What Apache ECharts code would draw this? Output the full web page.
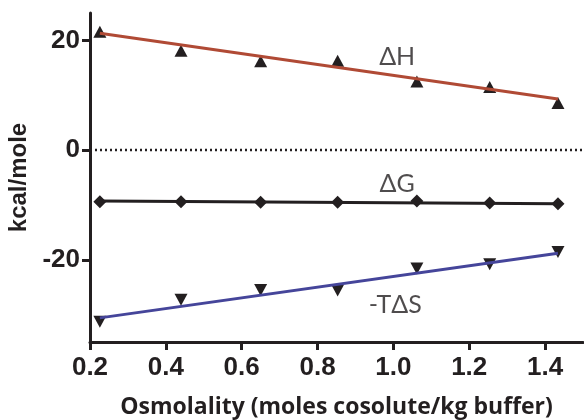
<!DOCTYPE html>
<html lang="en">
<head>
    <meta charset="UTF-8">
    <title>kcal/mole vs osmolality</title>
    <script src="https://cdn.jsdelivr.net/npm/echarts@6/dist/echarts.min.js"></script>
    <style>html,body{margin:0;padding:0;background:#fff;}</style>
</head>
<body>
<div id="box" style="width: 584px;height: 420px;"></div>
<script>
    // data
    var osmolality = [0.226, 0.44, 0.65, 0.853, 1.062, 1.254, 1.434];
    var dH = [21.6, 18.1, 16.2, 16.3, 12.5, 11.5, 8.6];
    var dG = [-9.4, -9.4, -9.5, -9.5, -9.3, -9.65, -9.8];
    var mTdS = [-31.3, -27.3, -25.5, -25.6, -21.6, -20.8, -18.6];
    // fitted lines: value at first and last x
    var fitX = [0.226, 1.434];
    var fitH = [21.3, 9.3];
    var fitG = [-9.3, -9.8];
    var fitS = [-30.6, -18.8];
    var xTicks = [0.2, 0.4, 0.6, 0.8, 1.0, 1.2, 1.4];
    var yTicks = [-20, 0, 20];
    var labels = [['ΔH', 1.01, 17], ['ΔG', 1.01, -6.1], ['-TΔS', 1.005, -28.3]];

    function pairs(xs, ys) {
        return xs.map(function (x, i) { return [x, ys[i]]; });
    }

    var myChart = echarts.init(document.getElementById('box'));
    var axisFont = {fontFamily: 'Liberation Sans', fontWeight: 'bold', fontSize: 26, color: '#231f20'};
    var option = {
        animation: false,
        grid: {left: 90, right: 1, top: 13, bottom: 78, outerBoundsMode: 'none'},
        xAxis: {
            type: 'value', min: 0.2, max: 1.5,
            name: 'Osmolality (moles cosolute/kg buffer)',
            nameLocation: 'middle', nameGap: 54,
            nameTextStyle: {fontFamily: 'Open Sans', fontWeight: 'bold', fontSize: 23, color: '#231f20'},
            axisLine: {onZero: false, lineStyle: {color: '#231f20', width: 3}},
            axisTick: {customValues: xTicks, length: 8, lineStyle: {width: 3, color: '#231f20'}},
            axisLabel: Object.assign({customValues: xTicks, margin: 13, formatter: function (v) { return v.toFixed(1); }}, axisFont),
            splitLine: {show: false}
        },
        yAxis: {
            type: 'value', min: -35, max: 25,
            name: 'kcal/mole',
            nameLocation: 'middle', nameGap: 57,
            nameTextStyle: {fontFamily: 'Liberation Sans', fontWeight: 'bold', fontSize: 24, color: '#231f20'},
            axisLine: {show: true, onZero: false, lineStyle: {color: '#231f20', width: 3}},
            axisTick: {show: true, customValues: yTicks, length: 8, lineStyle: {width: 3, color: '#231f20'}},
            axisLabel: Object.assign({customValues: yTicks, margin: 10}, axisFont),
            splitLine: {show: false}
        },
        series: [
            {
                type: 'line', data: [[0.2, 0], [1.5, 0]], showSymbol: false, silent: true,
                lineStyle: {color: '#231f20', width: 2.5, type: [2, 3]}
            },
            {type: 'line', data: pairs(fitX, fitH), showSymbol: false, lineStyle: {color: '#b04a35', width: 3}},
            {type: 'line', data: pairs(fitX, fitG), showSymbol: false, lineStyle: {color: '#231f20', width: 3}},
            {type: 'line', data: pairs(fitX, fitS), showSymbol: false, lineStyle: {color: '#45459a', width: 3}},
            {type: 'scatter', data: pairs(osmolality, dH), symbol: 'triangle', symbolSize: [13, 12], itemStyle: {color: '#231f20', opacity: 1}},
            {type: 'scatter', data: pairs(osmolality, dG), symbol: 'diamond', symbolSize: [13, 13], itemStyle: {color: '#231f20', opacity: 1}},
            {type: 'scatter', data: pairs(osmolality, mTdS), symbol: 'triangle', symbolRotate: 180, symbolSize: [13, 12], itemStyle: {color: '#231f20', opacity: 1}},
            {
                type: 'scatter', symbolSize: 0, silent: true,
                data: labels.map(function (l) { return {name: l[0], value: [l[1], l[2]]}; }),
                label: {show: true, position: 'inside', formatter: '{b}', fontFamily: 'Lato', fontSize: 25, color: '#231f20'}
            }
        ]
    };
    myChart.setOption(option);
</script>
</body>
</html>
